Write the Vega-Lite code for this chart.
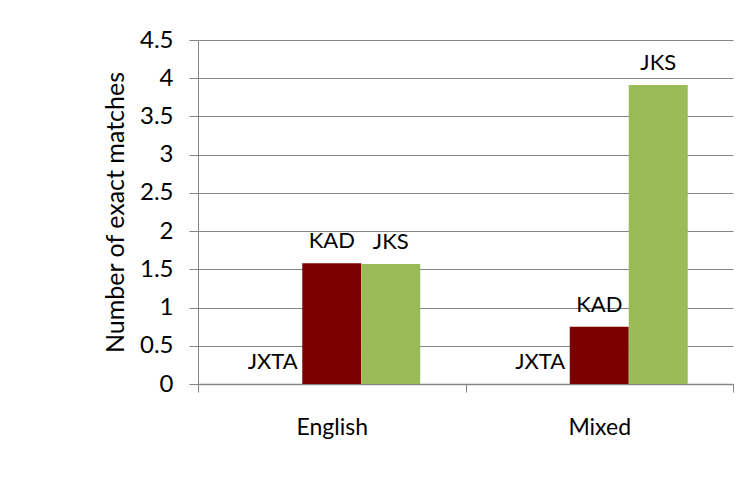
{
  "$schema": "https://vega.github.io/schema/vega-lite/v6.json",
  "width": 535,
  "height": 344,
  "autosize": {"type": "none"},
  "padding": {"left": 198, "top": 40, "right": 11, "bottom": 99},
  "background": "white",
  "config": {
    "view": {"stroke": null},
    "font": "Lato",
    "axis": {"labelFont": "Lato", "titleFont": "Lato", "labelColor": "#000000", "titleColor": "#000000"}
  },
  "data": {
    "values": [
      {"language": "English", "system": "JXTA", "matches": 0},
      {"language": "English", "system": "KAD", "matches": 1.58},
      {"language": "English", "system": "JKS", "matches": 1.57},
      {"language": "Mixed", "system": "JXTA", "matches": 0},
      {"language": "Mixed", "system": "KAD", "matches": 0.75},
      {"language": "Mixed", "system": "JKS", "matches": 3.91}
    ]
  },
  "encoding": {
    "x": {
      "field": "language",
      "type": "nominal",
      "sort": ["English", "Mixed"],
      "scale": {"paddingInner": 0, "paddingOuter": 0},
      "axis": {
        "title": null,
        "labelAngle": 0,
        "labelFontSize": 23,
        "labelPadding": 24,
        "tickBand": "extent",
        "tickSize": 8,
        "tickColor": "#868686",
        "domainColor": "#868686",
        "domainWidth": 1.5
      }
    },
    "xOffset": {
      "field": "system",
      "type": "nominal",
      "sort": ["JXTA", "KAD", "JKS"],
      "scale": {"paddingInner": 0, "paddingOuter": 0.767}
    },
    "y": {
      "field": "matches",
      "type": "quantitative",
      "scale": {"domain": [0, 4.5], "nice": false},
      "axis": {
        "title": "Number of exact matches",
        "titleFontSize": 25,
        "titleFontWeight": "normal",
        "titlePadding": 11,
        "values": [0, 0.5, 1, 1.5, 2, 2.5, 3, 3.5, 4, 4.5],
        "format": "~g",
        "labelFontSize": 24,
        "labelPadding": 16,
        "tickSize": 9,
        "tickColor": "#868686",
        "domainColor": "#868686",
        "gridColor": "#868686",
        "gridWidth": 1,
        "labelFlush": false
      }
    }
  },
  "layer": [
    {
      "mark": {"type": "bar"},
      "encoding": {
        "color": {
          "field": "system",
          "type": "nominal",
          "scale": {"domain": ["JXTA", "KAD", "JKS"], "range": ["#4F81BD", "#7B0000", "#9BBB59"]},
          "legend": null
        }
      }
    },
    {
      "mark": {"type": "text", "dy": -22, "baseline": "middle", "fontSize": 22, "color": "#000000"},
      "encoding": {"text": {"field": "system"}}
    }
  ]
}
